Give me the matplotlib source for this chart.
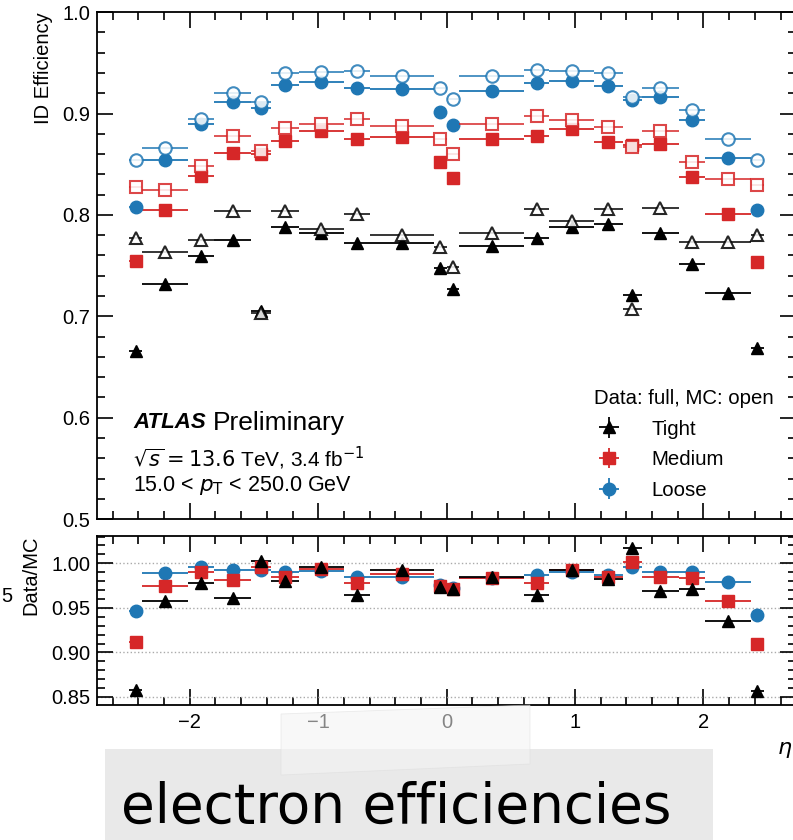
import numpy as np
import matplotlib
matplotlib.use("Agg")
import matplotlib.pyplot as plt
import matplotlib.patches as mpatches
from matplotlib.ticker import MultipleLocator, FormatStrFormatter

plt.rcParams['font.family'] = ['Liberation Sans', 'DejaVu Sans']
plt.rcParams['font.size'] = 14.5

# eta binning (electron ID)
eta_edges = [-2.47, -2.37, -2.01, -1.81, -1.52, -1.37, -1.15, -0.8, -0.6, -0.1, 0.0,
             0.1, 0.6, 0.8, 1.15, 1.37, 1.52, 1.81, 2.01, 2.37, 2.47]

# efficiencies
tight_data = [0.666, 0.732, 0.759, 0.775, 0.705, 0.788, 0.782, 0.772, 0.772, 0.748,
              0.727, 0.769, 0.777, 0.788, 0.791, 0.721, 0.782, 0.752, 0.723, 0.669]
tight_mc = [0.777, 0.763, 0.775, 0.804, 0.703, 0.804, 0.786, 0.801, 0.780, 0.768,
            0.749, 0.782, 0.806, 0.794, 0.806, 0.707, 0.807, 0.773, 0.773, 0.780]
medium_data = [0.755, 0.805, 0.838, 0.861, 0.860, 0.873, 0.883, 0.875, 0.877, 0.852,
               0.836, 0.875, 0.878, 0.885, 0.872, 0.869, 0.870, 0.837, 0.801, 0.754]
medium_mc = [0.828, 0.825, 0.848, 0.878, 0.863, 0.886, 0.890, 0.895, 0.888, 0.875,
             0.860, 0.890, 0.898, 0.894, 0.887, 0.867, 0.883, 0.852, 0.835, 0.829]
loose_data = [0.808, 0.854, 0.890, 0.911, 0.905, 0.928, 0.931, 0.925, 0.924, 0.901,
              0.889, 0.922, 0.930, 0.932, 0.927, 0.913, 0.916, 0.894, 0.856, 0.805]
loose_mc = [0.854, 0.866, 0.895, 0.920, 0.911, 0.940, 0.941, 0.942, 0.937, 0.925,
            0.914, 0.937, 0.943, 0.942, 0.940, 0.916, 0.925, 0.903, 0.875, 0.854]

# data/MC ratios
tight_ratio = [0.858, 0.958, 0.978, 0.961, 1.003, 0.980, 0.996, 0.964, 0.992, 0.973,
               0.971, 0.985, 0.964, 0.993, 0.982, 1.017, 0.969, 0.971, 0.935, 0.857]
medium_ratio = [0.912, 0.974, 0.990, 0.981, 0.996, 0.985, 0.994, 0.978, 0.988, 0.974,
                0.971, 0.984, 0.978, 0.992, 0.985, 1.002, 0.985, 0.983, 0.958, 0.909]
loose_ratio = [0.947, 0.989, 0.996, 0.992, 0.993, 0.990, 0.991, 0.985, 0.985, 0.976,
               0.972, 0.983, 0.987, 0.990, 0.987, 0.996, 0.990, 0.990, 0.979, 0.942]

edges = np.array(eta_edges)
centers = 0.5 * (edges[1:] + edges[:-1])
halfw = 0.5 * (edges[1:] - edges[:-1])

BLUE = '#1f77b4'
RED = '#d62728'
BLACK = 'black'

series = [
    ('Loose', 'o', BLUE, loose_data, loose_mc, loose_ratio),
    ('Medium', 's', RED, medium_data, medium_mc, medium_ratio),
    ('Tight', '^', BLACK, tight_data, tight_mc, tight_ratio),
]

fig = plt.figure(figsize=(7.93, 8.40), dpi=100)

# slide decorations: grey caption box
fig.patches.append(mpatches.Rectangle((105 / 793, 0), (713 - 105) / 793, (840 - 749) / 840,
                                      transform=fig.transFigure, facecolor='#e9e9e9',
                                      edgecolor='none', zorder=0))

ax = fig.add_axes([0.1227, 0.382, 0.881, 0.6036])
rax = fig.add_axes([0.1227, 0.1607, 0.881, 0.2016], sharex=ax)

for name, mk, col, dat, mc, rat in series:
    ax.errorbar(centers, dat, xerr=halfw, fmt=mk, color=col, ms=9, mec=col,
                elinewidth=1.3, capsize=0, zorder=3)
    ax.errorbar(centers, mc, xerr=halfw, fmt=mk, color=col, ms=9, mfc='white', mec=col,
                mew=1.5, elinewidth=1.3, capsize=0, alpha=0.85, zorder=4)
    rax.errorbar(centers, rat, xerr=halfw, fmt=mk, color=col, ms=9, mec=col,
                 elinewidth=1.3, capsize=0, zorder=3)

ax.set_xlim(-2.72, 2.72)
ax.set_ylim(0.5, 1.0)
rax.set_ylim(0.841, 1.031)

for a in (ax, rax):
    a.tick_params(which='both', direction='in', top=True, right=True, width=1.2)
    a.tick_params(which='major', length=11.5, pad=5)
    a.tick_params(which='minor', length=5.8)
    a.xaxis.set_major_locator(MultipleLocator(1))
    a.xaxis.set_minor_locator(MultipleLocator(0.2))
    for s in a.spines.values():
        s.set_linewidth(1.3)

ax.yaxis.set_major_locator(MultipleLocator(0.1))
ax.yaxis.set_minor_locator(MultipleLocator(0.02))
ax.yaxis.set_major_formatter(FormatStrFormatter('%.1f'))
ax.tick_params(labelbottom=False)

rax.yaxis.set_major_locator(MultipleLocator(0.05))
rax.yaxis.set_minor_locator(MultipleLocator(0.01))
rax.yaxis.set_major_formatter(FormatStrFormatter('%.2f'))
rax.grid(axis='y', which='major', linestyle=':', color='#aaaaaa', linewidth=1)
rax.tick_params(axis='x', pad=6)

ax.set_ylabel('ID Efficiency', loc='top', labelpad=7)
rax.set_ylabel('Data/MC', loc='top', labelpad=8)

# ATLAS label
ax.text(0.0515, 0.190, 'ATLAS', transform=ax.transAxes, fontsize=16,
        fontweight='bold', fontstyle='italic', va='center')
ax.text(0.165, 0.190, 'Preliminary', transform=ax.transAxes, fontsize=19, va='center')
ax.text(0.0515, 0.120, r'$\sqrt{s} = 13.6$ TeV, 3.4 fb$^{-1}$', transform=ax.transAxes,
        fontsize=15, va='center')
ax.text(0.0515, 0.066, r'15.0 < $p_{\mathrm{T}}$ < 250.0 GeV', transform=ax.transAxes,
        fontsize=15.5, va='center', math_fontfamily='dejavusans')

# legend with cross-shaped error bar handles
handles = []
for name, mk, col, dat, mc, rat in series[::-1]:
    h = ax.errorbar([], [], xerr=[], yerr=[], fmt=mk, color=col, ms=9, capsize=0,
                    elinewidth=1.3)
    handles.append(h)
ax.legend(handles, ['Tight', 'Medium', 'Loose'], title='Data: full, MC: open',
          loc='upper left', bbox_to_anchor=(0.697, 0.277), frameon=False,
          borderpad=0, handlelength=1.4, handletextpad=1.4, labelspacing=0.57,
          alignment='left', title_fontsize=14.7, fontsize=14.7)

# clipped bits from the slide
fig.text(777 / 793, 1 - 750 / 840, r'$\eta$', fontsize=16, ha='left', va='center')
fig.text(1 / 793, 1 - 596 / 840, '5', fontsize=14.5, ha='left', va='center')

# caption
fig.text(396 / 793, 1 - 823 / 840, 'electron efficiencies', fontsize=39.5,
         family='DejaVu Sans', ha='center', va='baseline', zorder=5)

# piece of tape over the axis labels
tape = mpatches.Polygon([(281 / 793, 1 - 714 / 840), (530 / 793, 1 - 705 / 840),
                         (530 / 793, 1 - 764 / 840), (281 / 793, 1 - 775 / 840)],
                        closed=True, transform=fig.transFigure, facecolor='#f4f4f4',
                        edgecolor='#dddddd', linewidth=0.6, alpha=0.55, zorder=10)
fig.patches.append(tape)

fig.savefig('out.png', dpi=100)
